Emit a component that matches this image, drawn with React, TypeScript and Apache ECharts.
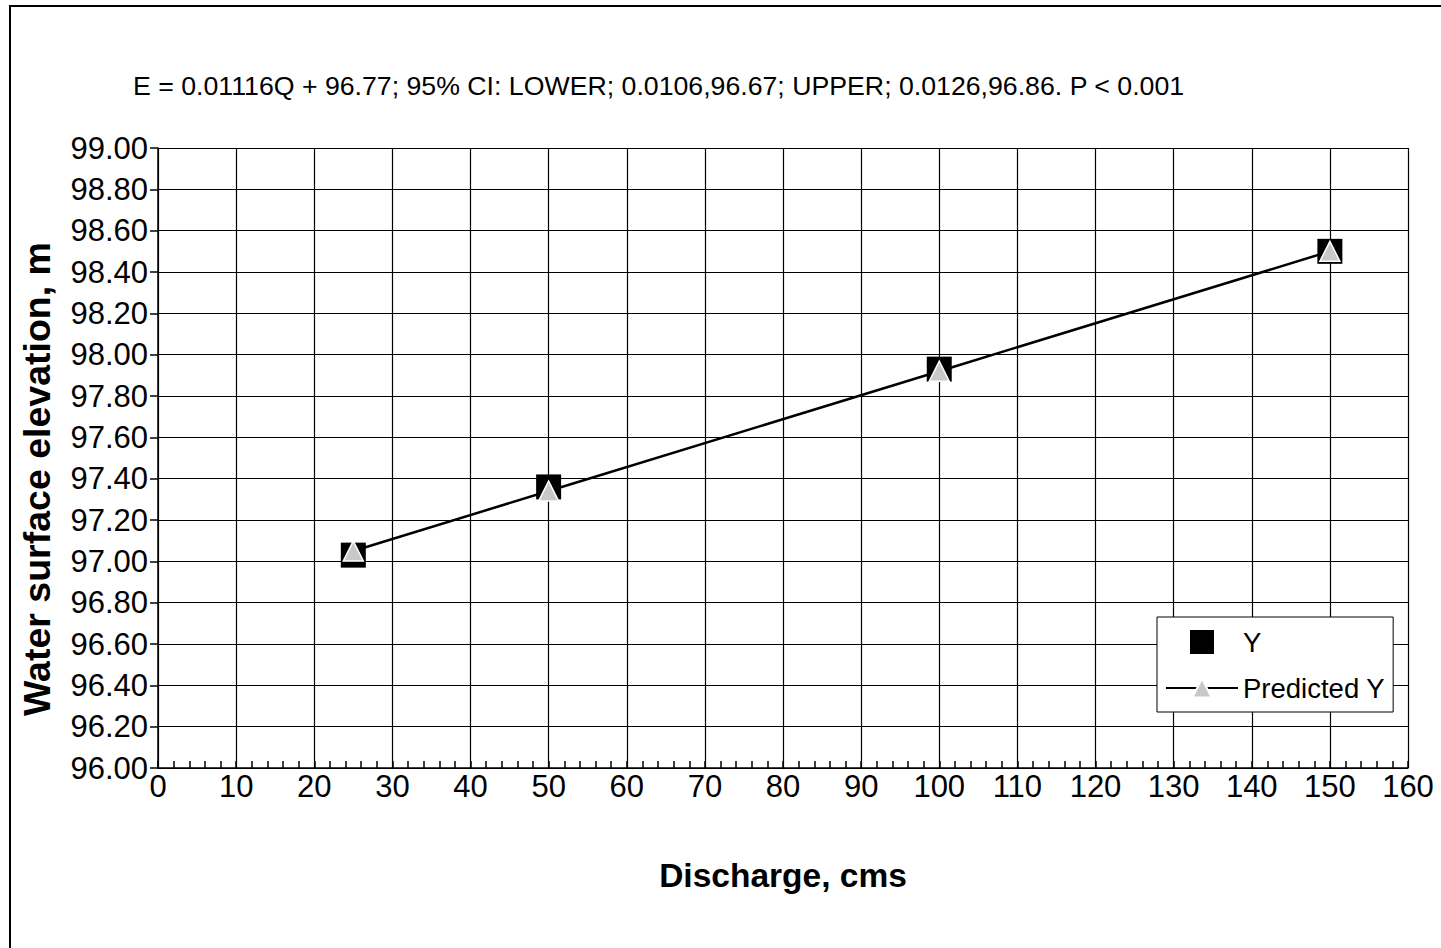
import React, { useEffect, useRef } from 'react';
import * as echarts from 'echarts';

const discharge = [25, 50, 100, 150];
const observedY = [97.03, 97.36, 97.93, 98.5];
const predictedY = [97.05, 97.34, 97.92, 98.5];
const seriesNames = ['Y', 'Predicted Y'];
const titleText = 'E = 0.01116Q + 96.77; 95% CI: LOWER; 0.0106,96.67; UPPER; 0.0126,96.86. P < 0.001';
const xAxisTitle = 'Discharge, cms';
const yAxisTitle = 'Water surface elevation, m';
const yRange = [96, 99];
const xRange = [0, 160];

const FONT = "'Liberation Sans', Arial, sans-serif";

export default function App() {
  const ref = useRef<HTMLDivElement>(null);
  useEffect(() => {
    if (!ref.current) return;
    const chart = echarts.init(ref.current, null, { renderer: 'svg' });
    chart.setOption({
      animation: false,
      backgroundColor: '#ffffff',
      textStyle: { fontFamily: FONT, color: '#000' },
      title: {
        text: titleText,
        left: 133,
        top: 72,
        padding: 0,
        textStyle: { fontFamily: FONT, fontSize: 26.7, fontWeight: 'normal', color: '#000' },
      },
      graphic: [
        {
          type: 'rect',
          silent: true,
          shape: { x: 10, y: 6, width: 1440, height: 950 },
          style: { fill: 'none', stroke: '#000', lineWidth: 2 },
        },
      ],
      grid: { left: 158, top: 148, width: 1250, height: 620, show: false },
      legend: {
        orient: 'vertical',
        left: 1157,
        top: 617,
        padding: [11, 8, 10, 8],
        itemGap: 18,
        itemWidth: 72,
        itemHeight: 24,
        backgroundColor: '#fff',
        borderColor: '#000',
        borderWidth: 1,
        borderRadius: 0,
        textStyle: { fontFamily: FONT, fontSize: 27.5, color: '#000' },
        data: [
          { name: seriesNames[0], icon: 'path://M0,0L10,0L10,10L0,10Z' },
          { name: seriesNames[1] },
        ],
      },
      xAxis: {
        type: 'value',
        min: xRange[0],
        max: xRange[1],
        interval: 10,
        name: xAxisTitle,
        nameLocation: 'middle',
        nameGap: 90,
        nameTextStyle: { fontFamily: FONT, fontSize: 33.5, fontWeight: 'bold', color: '#000' },
        axisLine: { show: true, lineStyle: { color: '#000', width: 1.5 } },
        axisTick: { show: true, inside: true, length: 7, lineStyle: { color: '#000', width: 1.5 } },
        minorTick: { show: true, splitNumber: 5, length: 7, lineStyle: { color: '#000', width: 1.5 } },
        axisLabel: { fontFamily: FONT, fontSize: 31, color: '#000', margin: 3 },
        splitLine: { show: true, lineStyle: { color: '#000', width: 1.2 } },
      },
      yAxis: {
        type: 'value',
        min: yRange[0],
        max: yRange[1],
        interval: 0.2,
        name: yAxisTitle,
        nameLocation: 'middle',
        nameGap: 102,
        nameRotate: 90,
        nameTextStyle: {
          fontFamily: FONT,
          fontSize: 37.5,
          fontWeight: 'bold',
          color: '#000',
          padding: [0, 42, 0, 0],
        },
        axisLine: { show: true, lineStyle: { color: '#000', width: 1.5 } },
        axisTick: { show: true, inside: false, length: 8, lineStyle: { color: '#000', width: 1.5 } },
        axisLabel: {
          fontFamily: FONT,
          fontSize: 31,
          color: '#000',
          margin: 10,
          formatter: (v: number) => v.toFixed(2),
        },
        splitLine: { show: true, lineStyle: { color: '#000', width: 1.2 } },
      },
      series: [
        {
          name: seriesNames[0],
          type: 'scatter',
          symbol: 'rect',
          symbolSize: 25,
          itemStyle: { color: '#000', opacity: 1 },
          z: 2,
          data: discharge.map((q, i) => [q, observedY[i]]),
        },
        {
          name: seriesNames[1],
          type: 'line',
          symbol: 'triangle',
          symbolSize: 20,
          showSymbol: true,
          lineStyle: { color: '#000', width: 2.5 },
          itemStyle: { color: '#c8c8c8', borderColor: '#ffffff', borderWidth: 1.5, opacity: 1 },
          z: 3,
          data: discharge.map((q, i) => [q, predictedY[i]]),
        },
      ],
    });
    return () => chart.dispose();
  }, []);
  return (
    <div
      ref={ref}
      style={{ position: 'fixed', left: 0, top: 0, width: 1441, height: 948, background: '#fff' }}
    />
  );
}
